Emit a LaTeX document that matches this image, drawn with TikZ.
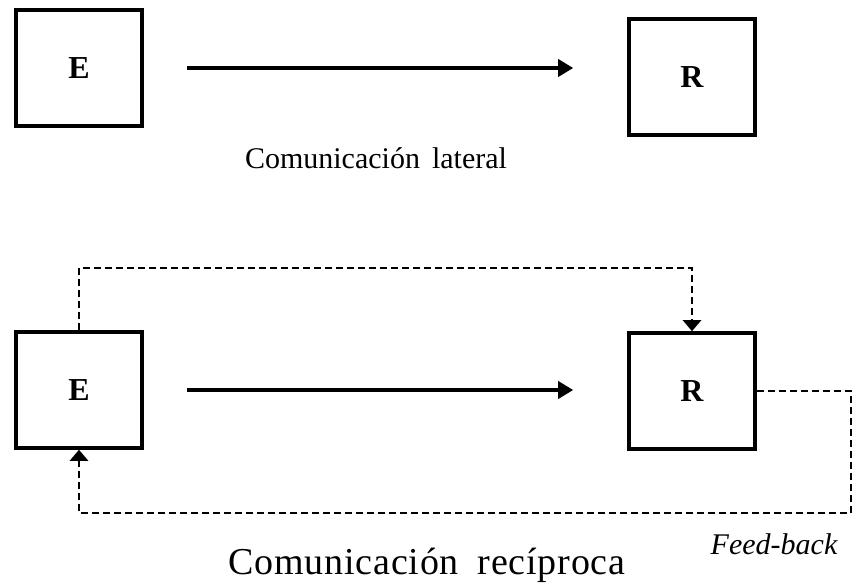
\documentclass[tikz,border=0pt]{standalone}
\usepackage{fontspec}
\setmainfont{Liberation Serif}
\usepackage{tikz}
\usetikzlibrary{arrows.meta}

\begin{document}
\begin{tikzpicture}[x=1pt,y=1pt,node distance=613pt,
                    >={Triangle[length=15pt,width=17pt]}]

  \tikzstyle{party}=[rectangle,draw,line width=3.6pt,minimum width=126pt,
                     minimum height=116pt,font=\fontsize{32}{38}\selectfont\bfseries]
  \tikzstyle{msg}=[->,line width=3.6pt,shorten <=43pt,shorten >=54pt]
  \tikzstyle{fb}=[line width=2.8pt,dash pattern=on 7pt off 4pt,
                  -{Triangle[length=11pt,width=18pt]}]
  \tikzstyle{caption}=[font=\fontsize{30}{36}\selectfont]

  \useasboundingbox (0,0) rectangle (853,584);

  \node[party] (E1) at (79,516)               {E};
  \node[party] (R1) [right of=E1,yshift=-9pt] {R};

  \node[party] (E2) [node distance=322pt,below of=E1] {E};
  \node[party] (R2) [right of=E2,yshift=-1pt]         {R};

  \node[caption] (lat) at (376,426) {Comunicación\hspace{.4em}lateral};
  \node[caption,anchor=base,
        font=\fontsize{38}{44}\selectfont\addfontfeature{LetterSpace=2}] (rec) at (427,10)
       {Comunicación\hspace{.5em}recíproca};
  \node[caption,font=\fontsize{30}{36}\selectfont\itshape] (fbk) at (774,40) {Feed-back};

  \coordinate (up)   at (79,316);
  \coordinate (side) at (851,193);
  \coordinate (low)  at (851,71);

  \draw[msg] (E1.east) -- (E1.east -| R1.west);
  \draw[msg] (E2.east) -- (E2.east -| R2.west);

  \draw[fb] (E2.north) -- (up) -| (R2.north);
  \draw[fb] (R2.east) -- (side) -- (low) -| (E2.south);
\end{tikzpicture}
\end{document}
